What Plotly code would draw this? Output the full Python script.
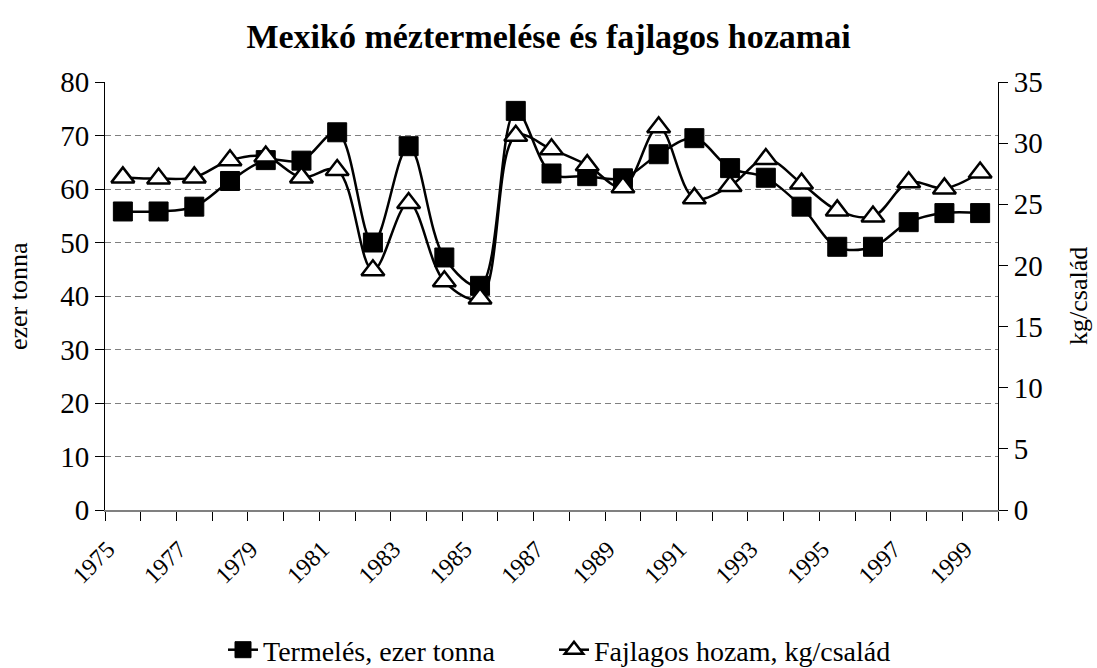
import plotly.graph_objects as go

years = list(range(1975, 2000))
termeles = [55.8, 55.8, 56.7, 61.5, 65.4, 65.3, 70.6, 50.0, 68.0, 47.2, 41.9, 74.6,
            62.9, 62.4, 62.0, 66.5, 69.5, 63.9, 62.1, 56.7, 49.2, 49.2, 53.8, 55.5, 55.5]
fajlagos = [27.2, 27.1, 27.2, 28.6, 28.9, 27.2, 27.8, 19.6, 25.1, 18.7, 17.3, 30.6,
            29.5, 28.2, 26.4, 31.3, 25.5, 26.5, 28.7, 26.7, 24.5, 24.0, 26.8, 26.3, 27.6]
tick_years = list(range(1975, 2000, 2))

FONT = "Liberation Serif, Times New Roman, serif"

fig = go.Figure()
fig.add_trace(go.Scatter(
    x=years, y=termeles, name="Termelés, ezer tonna",
    mode="lines+markers",
    line=dict(color="black", width=2.5, shape="spline", smoothing=1),
    marker=dict(symbol="square", size=19, color="black", line=dict(color="black", width=1)),
    yaxis="y", legend="legend",
))
fig.add_trace(go.Scatter(
    x=years, y=fajlagos, name="Fajlagos hozam, kg/család",
    mode="lines+markers",
    line=dict(color="black", width=2.5, shape="spline", smoothing=1),
    marker=dict(symbol="triangle-up", size=20, color="white", line=dict(color="black", width=2.5)),
    yaxis="y2", legend="legend2",
))

leg_common = dict(orientation="h", xanchor="left", y=(510 - 650) / 428, yanchor="middle",
                  font=dict(family=FONT, size=28, color="black"), bgcolor="rgba(0,0,0,0)")

fig.update_layout(
    width=1097, height=668,
    paper_bgcolor="white", plot_bgcolor="white",
    margin=dict(l=105, r=99, t=82, b=158, autoexpand=False),
    font=dict(family=FONT, color="black", size=22),
    title=dict(text="<b>Mexikó méztermelése és fajlagos hozamai</b>",
               x=0.5, xanchor="center", y=1 - 36 / 668, yanchor="middle", yref="container",
               font=dict(family=FONT, size=34, color="black")),
    showlegend=True,
    legend=dict(x=(223 - 105) / 893, **leg_common),
    legend2=dict(x=(554 - 105) / 893, **leg_common),
    xaxis=dict(
        range=[1974.5, 1999.5], tickmode="array", tickvals=tick_years,
        ticktext=[str(y) for y in tick_years], tickangle=-45,
        ticks="", showgrid=False, zeroline=False, automargin=False,
        showline=True, linecolor="#808080", linewidth=1.5,
        tickfont=dict(family=FONT, size=24), ticklabelshift=-15, ticklabelstandoff=14,
        minor=dict(ticks="outside", tick0=1974.5, dtick=1, ticklen=9, tickcolor="black", tickwidth=1, showgrid=False),
    ),
    yaxis=dict(
        range=[0, 80], dtick=10, showgrid=True, gridcolor="#808080", griddash="6px,4px", gridwidth=1.2,
        zeroline=False, showline=True, linecolor="black", linewidth=1, automargin=False,
        ticks="outside", ticklen=9, tickcolor="black",
        tickfont=dict(family=FONT, size=29),
    ),
    yaxis2=dict(
        range=[0, 35], dtick=5, overlaying="y", side="right", showgrid=False, zeroline=False,
        showline=True, linecolor="black", linewidth=1, automargin=False,
        ticks="outside", ticklen=9, tickcolor="black",
        tickfont=dict(family=FONT, size=29),
    ),
    annotations=[
        dict(text="ezer tonna", xref="paper", yref="paper", x=(18 - 105) / 893, y=0.5,
             textangle=-90, showarrow=False, xanchor="center", yanchor="middle",
             font=dict(family=FONT, size=26, color="black")),
        dict(text="kg/család", xref="paper", yref="paper", x=(1078 - 105) / 893, y=0.5,
             textangle=-90, showarrow=False, xanchor="center", yanchor="middle",
             font=dict(family=FONT, size=26, color="black")),
    ],
)

fig.write_html("out.html", config={"displayModeBar": False},
               post_script="document.body.style.margin='0';document.body.style.overflow='hidden';")
